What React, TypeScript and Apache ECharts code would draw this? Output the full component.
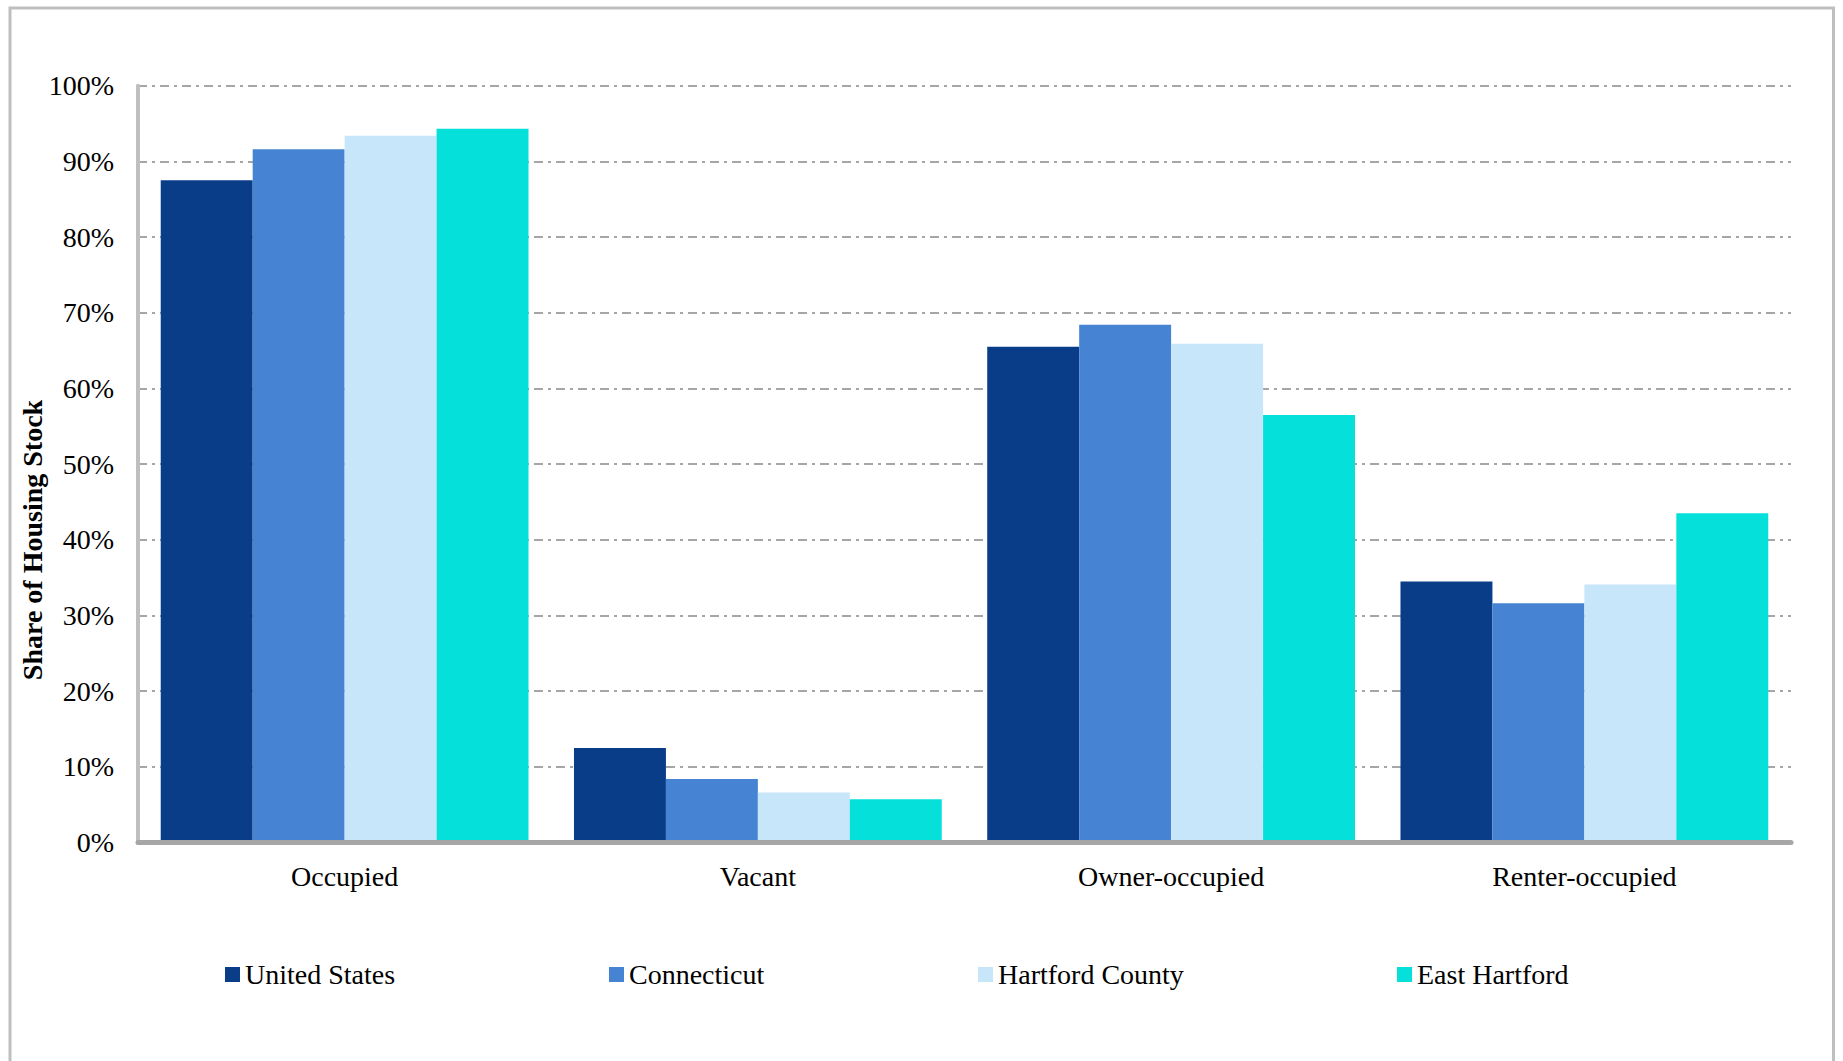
import React, { useEffect, useRef } from "react";
import * as echarts from "echarts";

const categories = ["Occupied", "Vacant", "Owner-occupied", "Renter-occupied"];
const seriesNames = ["United States", "Connecticut", "Hartford County", "East Hartford"];
const unitedStates = [87.5, 12.5, 65.5, 34.5];
const connecticut = [91.6, 8.4, 68.4, 31.6];
const hartfordCounty = [93.4, 6.6, 65.9, 34.1];
const eastHartford = [94.3, 5.7, 56.5, 43.5];
const seriesColors = ["#093d87", "#4684d3", "#c7e6fa", "#05e1da"];
const legendLefts = [225, 609, 978, 1397];
const yAxisTitle = "Share of Housing Stock";

const FONT = "'Liberation Serif', 'DejaVu Serif', serif";

export default function App() {
  const ref = useRef<HTMLDivElement>(null);
  useEffect(() => {
    if (!ref.current) return;
    const chart = echarts.init(ref.current, null, { renderer: "svg" });
    const values = [unitedStates, connecticut, hartfordCounty, eastHartford];
    chart.setOption({
      animation: false,
      backgroundColor: "#ffffff",
      textStyle: { fontFamily: FONT },
      grid: { left: 138, right: 52, top: 85.7, bottom: 218.5, containLabel: false },
      legend: seriesNames.map((name, i) => ({
        data: [name],
        left: legendLefts[i],
        top: 959.5,
        padding: 0,
        itemWidth: 15,
        itemHeight: 15,
        icon: "rect",
        selectedMode: false,
        textStyle: { fontFamily: FONT, fontSize: 28, color: "#000", lineHeight: 30 },
      })),
      xAxis: {
        type: "category",
        data: categories,
        z: 5,
        axisLine: { show: true, lineStyle: { color: "#a6a6a6", width: 5 } },
        axisTick: { show: false },
        axisLabel: { margin: 20, fontFamily: FONT, fontSize: 28, color: "#000" },
        splitLine: { show: false },
      },
      yAxis: {
        type: "value",
        min: 0,
        max: 100,
        interval: 10,
        axisLine: { show: true, lineStyle: { color: "#bfbfbf", width: 4 } },
        axisTick: { show: false },
        axisLabel: {
          margin: 24,
          fontFamily: FONT,
          fontSize: 28,
          color: "#000",
          formatter: (v: number) => `${v}%`,
        },
        splitLine: {
          show: true,
          lineStyle: { color: "#a6a6a6", width: 2, type: [9, 5, 3, 5] },
        },
      },
      series: seriesNames.map((name, i) => ({
        name,
        type: "bar",
        data: values[i],
        barGap: "0%",
        barCategoryGap: "11%",
        itemStyle: { color: seriesColors[i] },
      })),
      graphic: [
        {
          type: "rect",
          silent: true,
          z: -10,
          shape: { x: 10, y: 8, width: 1823.5, height: 1100 },
          style: { fill: "none", stroke: "#bfbfbf", lineWidth: 3 },
        },
        {
          type: "text",
          x: 32,
          y: 540,
          rotation: Math.PI / 2,
          style: {
            text: yAxisTitle,
            font: `bold 28px ${FONT}`,
            fill: "#000",
            align: "center",
            verticalAlign: "middle",
          },
        },
      ],
    });
    return () => chart.dispose();
  }, []);
  return (
    <div
      ref={ref}
      style={{ position: "absolute", left: 0, top: 0, width: 1843, height: 1061 }}
    />
  );
}
